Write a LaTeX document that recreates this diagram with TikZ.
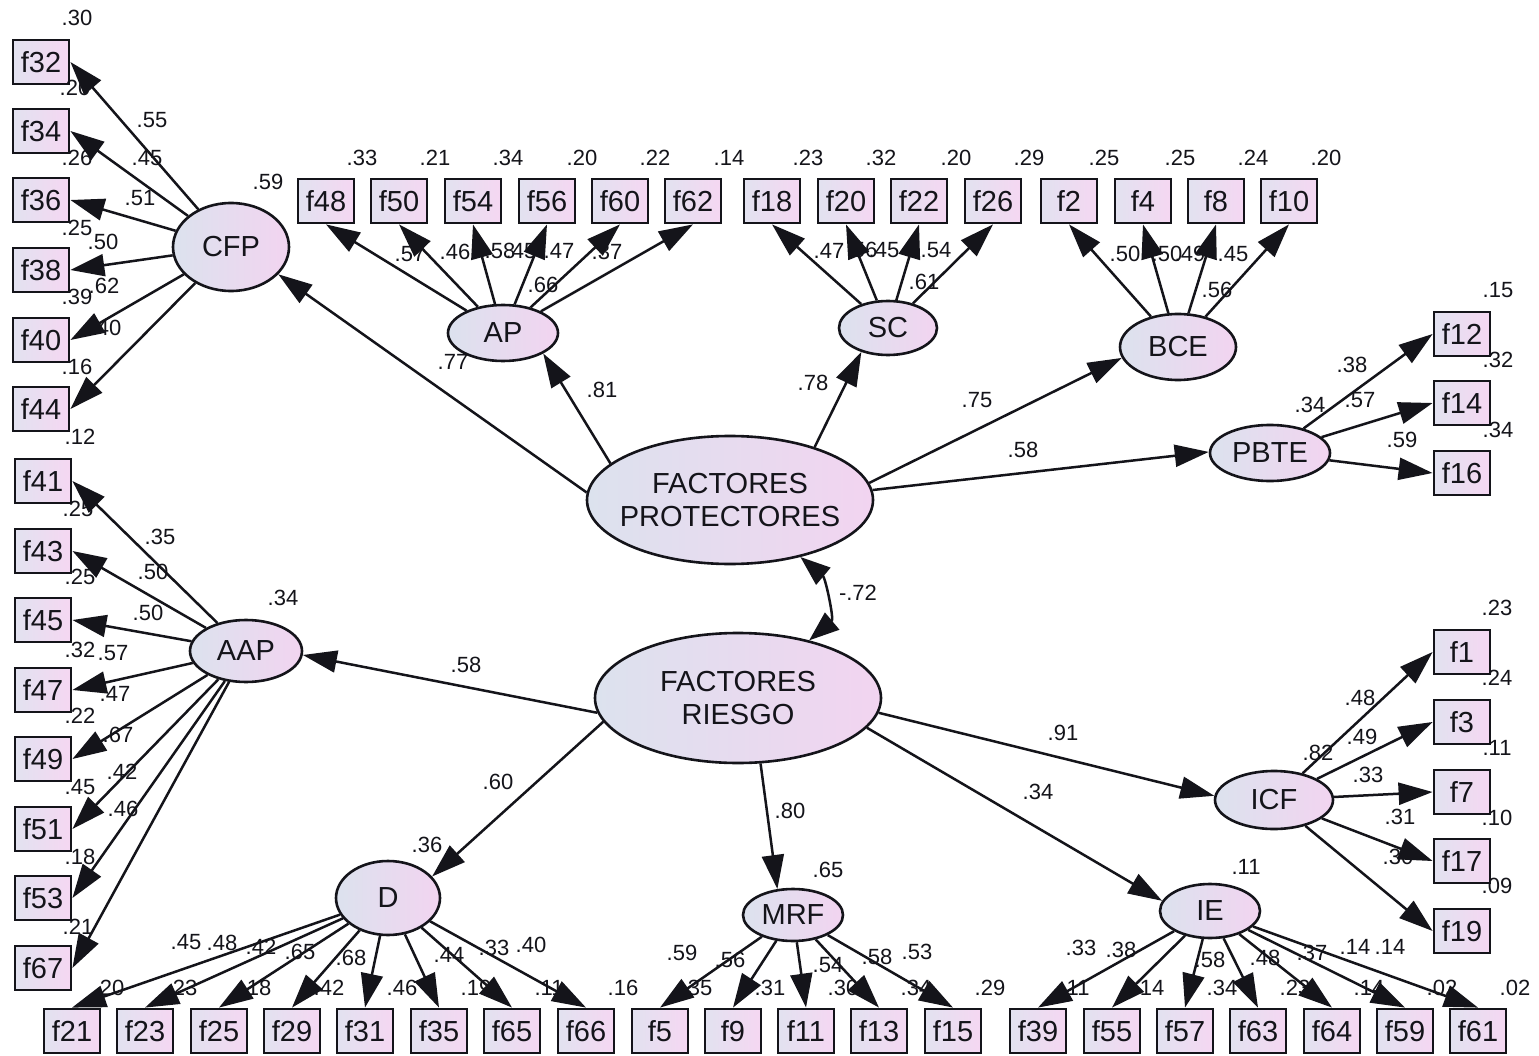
\documentclass[tikz,border=0pt]{standalone}
\usepackage{fontspec}
\setmainfont{Liberation Sans}
\usetikzlibrary{shapes.geometric,arrows.meta}
\definecolor{latL}{RGB}{220,226,238}
\definecolor{latR}{RGB}{242,212,240}
\definecolor{obsL}{RGB}{226,226,240}
\definecolor{obsR}{RGB}{245,215,242}
\definecolor{ink}{RGB}{20,20,26}
\tikzset{
  lat/.style={ellipse, draw=ink, line width=2.6pt, left color=latL, right color=latR, inner sep=0pt, text=ink, font=\fontsize{29}{33}\selectfont},
  lattext/.style={inner sep=0pt, align=center, text=ink, font=\fontsize{29}{33}\selectfont},
  obs/.style={rectangle, draw=ink, line width=2.8pt, left color=obsL, right color=obsR, minimum width=56pt, minimum height=44pt, inner sep=0pt, text=ink, font=\fontsize{29}{33}\selectfont},
  lbl/.style={inner sep=0pt, text=ink, font=\fontsize{22}{24}\selectfont},
  arr/.style={draw=ink, line width=2.5pt, -{Triangle[length=34pt,width=22pt]}},
  cov/.style={draw=ink, line width=2.5pt, {Triangle[length=30pt,width=22pt]}-{Triangle[length=30pt,width=22pt]}},
}
\begin{document}
\begin{tikzpicture}[x=1pt,y=-1pt]
\useasboundingbox (0,0) rectangle (1539,1056);
\fill[white] (0,0) rectangle (1539,1056);

% latent variables
\node[lat, minimum width=286pt, minimum height=128pt] (FP) at (730,500) {};
\node[lattext] (FPt) at (FP) {FACTORES\\PROTECTORES};
\node[lat, minimum width=286pt, minimum height=130pt] (FR) at (738,698) {};
\node[lattext] (FRt) at (FR) {FACTORES\\RIESGO};
\node[lat, minimum width=116pt, minimum height=88pt] (CFP) at (231,247) {CFP};
\node[lat, minimum width=110pt, minimum height=56pt] (AP) at (503,333) {AP};
\node[lat, minimum width=98pt, minimum height=54pt] (SC) at (888,328) {SC};
\node[lat, minimum width=116pt, minimum height=66pt] (BCE) at (1178,347) {BCE};
\node[lat, minimum width=120pt, minimum height=56pt] (PBTE) at (1270,453) {PBTE};
\node[lat, minimum width=112pt, minimum height=62pt] (AAP) at (246,651) {AAP};
\node[lat, minimum width=118pt, minimum height=58pt] (ICF) at (1274,800) {ICF};
\node[lat, minimum width=100pt, minimum height=54pt] (IE) at (1210,911) {IE};
\node[lat, minimum width=100pt, minimum height=52pt] (MRF) at (793,915) {MRF};
\node[lat, minimum width=104pt, minimum height=74pt] (D) at (388,898) {D};

% observed variables
\foreach \n/\y in {f32/62,f34/131,f36/200,f38/270,f40/340,f44/409}
  \node[obs] (\n) at (41,\y) {\n};
\foreach \n/\y in {f41/481,f43/551,f45/620,f47/690,f49/759,f51/829,f53/898,f67/968}
  \node[obs] (\n) at (43,\y) {\n};
\foreach \n/\x in {f48/326,f50/399,f54/473,f56/547,f60/620,f62/693,f18/772,f20/846,f22/919,f26/993,f2/1069,f4/1143,f8/1216,f10/1289}
  \node[obs] (\n) at (\x,201) {\n};
\foreach \n/\y in {f12/334,f14/403,f16/473,f1/652,f3/722,f7/792,f17/861,f19/931}
  \node[obs] (\n) at (1462,\y) {\n};
\foreach \n/\x in {f21/72,f23/145,f25/219,f29/292,f31/365,f35/439,f65/512,f66/586,f5/660,f9/733,f11/806,f13/879,f15/953,f39/1038,f55/1112,f57/1185,f63/1258,f64/1332,f59/1405,f61/1478}
  \node[obs] (\n) at (\x,1031) {\n};

% labels
\foreach \x/\y/\t [count=\i] in {77/18/.30, 75/88/.20, 152/120/.55, 77/158/.26, 147/158/.45, 140/198/.51, 77/228/.25, 103/242/.50, 77/297/.39, 104/286/.62, 106/328/.40, 77/367/.16, 268/182/.59}
  \node[lbl] (la\i) at (\x,\y) {\t};
\foreach \x/\y/\t [count=\i] in {80/437/.12, 160/537/.35, 78/509/.25, 153/572/.50, 80/577/.25, 148/613/.50, 283/598/.34, 80/650/.32, 113/653/.57, 115/694/.47, 80/716/.22, 118/735/.67, 122/772/.42, 80/787/.45, 123/809/.46, 80/857/.18, 78/927/.21, 466/665/.58}
  \node[lbl] (lb\i) at (\x,\y) {\t};
\foreach \x/\y/\t [count=\i] in {362/158/.33, 435/158/.21, 508/158/.34, 582/158/.20, 655/158/.22, 729/158/.14, 410/254/.57, 455/252/.46, 500/251/.58, 521/251/.45, 559/251/.47, 607/252/.37, 543/285/.66, 453/362/.77, 602/390/.81}
  \node[lbl] (lc\i) at (\x,\y) {\t};
\foreach \x/\y/\t [count=\i] in {808/158/.23, 881/158/.32, 956/158/.20, 1029/158/.29, 1104/158/.25, 1180/158/.25, 1253/158/.24, 1326/158/.20, 829/251/.47, 862/250/.56, 884/250/.45, 936/250/.54, 924/282/.61, 1125/254/.50, 1167/254/.50, 1190/254/.49, 1233/254/.45, 1217/290/.56, 813/383/.78, 977/400/.75, 1023/450/.58}
  \node[lbl] (ld\i) at (\x,\y) {\t};
\foreach \x/\y/\t [count=\i] in {1498/290/.15, 1352/365/.38, 1498/360/.32, 1310/405/.34, 1360/400/.57, 1498/430/.34, 1402/440/.59}
  \node[lbl] (le\i) at (\x,\y) {\t};
\foreach \x/\y/\t [count=\i] in {1497/608/.23, 1360/698/.48, 1497/678/.24, 1362/737/.49, 1318/753/.82, 1497/748/.11, 1368/775/.33, 1400/817/.31, 1497/818/.10, 1398/857/.30, 1497/886/.09, 1246/867/.11, 1063/733/.91, 1038/792/.34}
  \node[lbl] (lf\i) at (\x,\y) {\t};
\foreach \x/\y/\t [count=\i] in {858/593/-.72, 498/782/.60, 427/845/.36, 790/811/.80, 828/870/.65}
  \node[lbl] (lg\i) at (\x,\y) {\t};
\foreach \x/\y/\t [count=\i] in {186/942/.45, 222/943/.48, 261/947/.42, 300/952/.65, 351/958/.68, 109/988/.20, 182/988/.23, 256/988/.18, 329/988/.42, 402/988/.46, 449/955/.44, 476/988/.19, 494/948/.33, 531/945/.40, 549/988/.11, 623/988/.16}
  \node[lbl] (lh\i) at (\x,\y) {\t};
\foreach \x/\y/\t [count=\i] in {682/953/.59, 730/960/.56, 697/988/.35, 770/988/.31, 828/965/.54, 843/988/.30, 877/957/.58, 917/952/.53, 916/988/.34, 990/988/.29}
  \node[lbl] (li\i) at (\x,\y) {\t};
\foreach \x/\y/\t [count=\i] in {1081/948/.33, 1121/950/.38, 1210/960/.58, 1265/958/.48, 1312/953/.37, 1355/947/.14, 1390/947/.14, 1075/988/.11, 1149/988/.14, 1222/988/.34, 1295/988/.23, 1369/988/.14, 1442/988/.02, 1515/988/.02}
  \node[lbl] (lj\i) at (\x,\y) {\t};

% measurement arrows
\foreach \n in {f32,f34,f36,f38,f40,f44} \draw[arr] (CFP) -- (\n.east);
\foreach \n in {f41,f43,f45,f47,f49,f51,f53,f67} \draw[arr] (AAP) -- (\n.east);
\foreach \n in {f48,f50,f54,f56,f60,f62} \draw[arr] (AP) -- (\n.south);
\foreach \n in {f18,f20,f22,f26} \draw[arr] (SC) -- (\n.south);
\foreach \n in {f2,f4,f8,f10} \draw[arr] (BCE) -- (\n.south);
\foreach \n in {f12,f14,f16} \draw[arr] (PBTE) -- (\n.west);
\foreach \n in {f1,f3,f7,f17,f19} \draw[arr] (ICF) -- (\n.west);
\foreach \n in {f21,f23,f25,f29,f31,f35,f65,f66} \draw[arr] (D) -- (\n.north);
\foreach \n in {f5,f9,f11,f13,f15} \draw[arr] (MRF) -- (\n.north);
\foreach \n in {f39,f55,f57,f63,f64,f59,f61} \draw[arr] (IE) -- (\n.north);

% structural arrows
\draw[arr] (FP.177) -- (CFP.-30);
\draw[arr] (FP.163) -- (AP.-27);
\draw[arr] (FP.32) -- (SC.222);
\draw[arr] (FP.7) -- (BCE.191);
\draw[arr] (FP.4) -- (PBTE.179);
\draw[arr] (FR.186) -- (AAP.-4);
\draw[arr] (FR.190) -- (D.26);
\draw[arr] (FR.-71) -- (MRF.121);
\draw[arr] (FR.-13) -- (IE.168);
\draw[arr] (FR.-6) -- (ICF.176);

% covariance
\draw[cov] (FP.-39) to[out=-40,in=40] (FR.39);
\end{tikzpicture}
\end{document}
